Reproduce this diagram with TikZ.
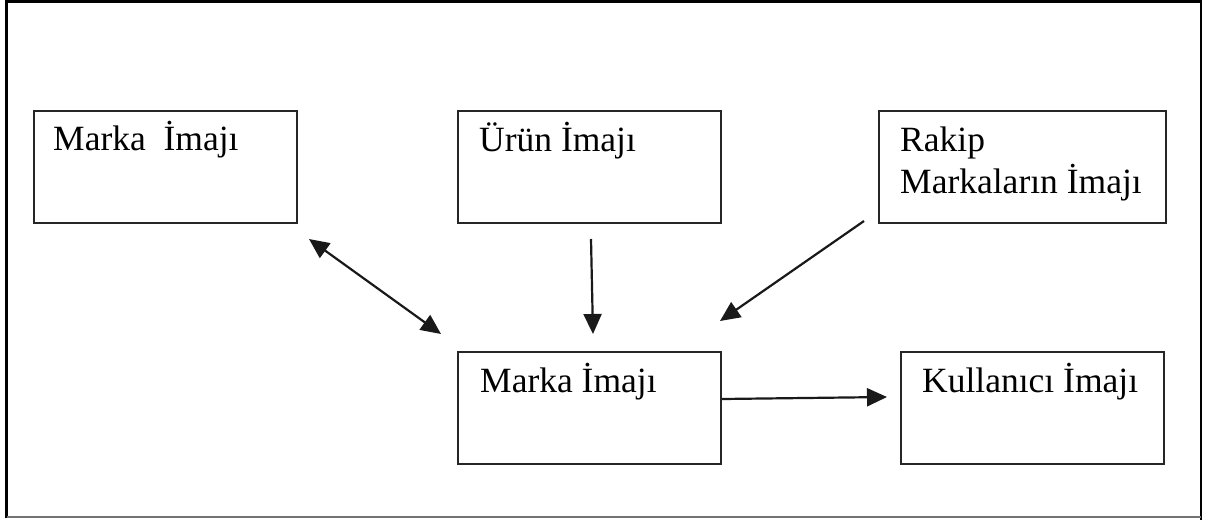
\documentclass[tikz,border=0pt]{standalone}
\usepackage{fontspec}
\setmainfont{Liberation Serif}
\usetikzlibrary{arrows.meta}
\begin{document}
\begin{tikzpicture}[x=1pt,y=-1pt,
  box/.style={draw=black!85, line width=2pt, rectangle, inner sep=0pt, anchor=north west, minimum width=263pt, minimum height=112pt},
  lbl/.style={anchor=base west, inner sep=0pt, font=\fontsize{35.5}{42}\selectfont, align=left},
  tip/.style={-{Triangle[length=20pt,width=18pt]}},
  conn/.style={line width=2.2pt, draw=black!90},
]
\useasboundingbox (0,0) rectangle (1225,520);
% outer frame
\draw[line width=2.5pt] (6.5,518) -- (6.5,1.5) -- (1201,1.5) -- (1201,520);
\draw[line width=1.5pt, black!55] (6.5,517) -- (1201,517);
% boxes
\node[box] (b1) at (33,110) {};
\node[box] (b2) at (457,110) {};
\node[box, minimum width=287pt] (b3) at (878,110) {};
\node[box] (b4) at (457,351) {};
\node[box] (b5) at (900,351) {};
% texts
\node[lbl] (t1) at (53,150) {Marka\ \ İmajı};
\node[lbl] (t2) at (479,151) {Ürün İmajı};
\node[lbl] (t3a) at (900,151) {Rakip};
\node[lbl] (t3b) at (900,193) {Markaların İmajı};
\node[lbl] (t4) at (480,392) {Marka İmajı};
\node[lbl] (t5) at (922,392) {Kullanıcı İmajı};
% connector end points
\coordinate (a1s) at (309,239);
\coordinate (a1e) at (441,334);
\coordinate (a2s) at (591,239);
\coordinate (a2e) at (593,334);
\coordinate (a3s) at (864,221);
\coordinate (a3e) at (720,321);
\coordinate (a4s) at (722,399);
\coordinate (a4e) at (887,397);
% connectors
\draw[conn, {Triangle[length=20pt,width=18pt]}-{Triangle[length=20pt,width=18pt]}] (a1s) -- (a1e);
\draw[conn, tip] (a2s) -- (a2e);
\draw[conn, tip] (a3s) -- (a3e);
\draw[conn, tip] (a4s) -- (a4e);
\end{tikzpicture}
\end{document}
